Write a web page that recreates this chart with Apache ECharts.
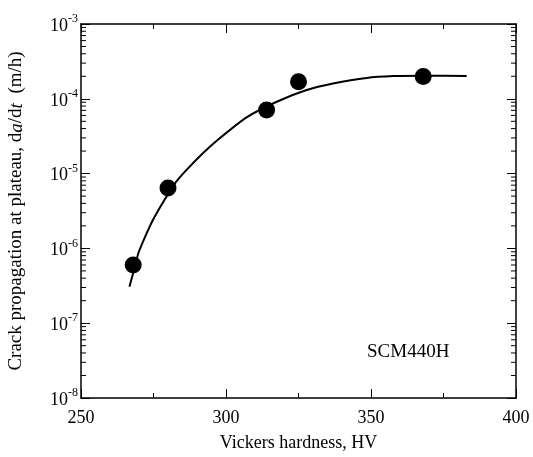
<!DOCTYPE html>
<html><head><meta charset="utf-8">
<script src="https://cdn.jsdelivr.net/npm/echarts@6/dist/echarts.min.js"></script>
<style>html,body{margin:0;padding:0;background:#fff}#c{width:533px;height:457px}</style>
</head><body><div id="c"></div>
<script>
// Measured data points (Vickers hardness HV, da/dt m/h)
const pointHV = [268, 280, 314, 325, 368];
const pointRate = [6.0e-7, 6.4e-6, 7.1e-5, 1.69e-4, 1.98e-4];
// Fitted curve
const curveHV = [266.7, 268.0, 269.8, 272.1, 274.8, 278.4, 282.4, 286.4, 292.2, 297.3, 307.1, 317.5, 327.8, 336.9, 348.5, 357.7, 368.0, 383.0];
const curveRate = [3.08e-7, 4.69e-7, 8.69e-7, 1.43e-6, 2.40e-6, 4.21e-6, 7.41e-6, 1.12e-5, 1.90e-5, 2.86e-5, 5.65e-5, 9.13e-5, 1.31e-4, 1.60e-4, 1.90e-4, 2.01e-4, 2.04e-4, 2.02e-4];
const xTicks = [250, 300, 350, 400];
const yTicks = [1e-8, 1e-7, 1e-6, 1e-5, 1e-4, 1e-3];
const annotation = 'SCM440H';

const FONT = '"Liberation Serif", "DejaVu Serif", serif';
const INK = '#000';
const chart = echarts.init(document.getElementById('c'), null, {renderer: 'canvas'});

const xBase = {
  type: 'value', min: 250, max: 400, interval: 50,
  axisLine: {show: true, lineStyle: {color: INK, width: 1.5}},
  axisTick: {show: true, inside: true, length: 9, lineStyle: {color: INK, width: 1}},
  minorTick: {show: true, splitNumber: 2, length: 5, lineStyle: {color: INK, width: 1}},
  splitLine: {show: false}
};
const yBase = {
  type: 'log', logBase: 10, min: 1e-8, max: 1e-3,
  axisLine: {show: true, lineStyle: {color: INK, width: 1.5}},
  axisTick: {show: true, inside: true, length: 9, lineStyle: {color: INK, width: 1}},
  splitLine: {show: false}
};

chart.setOption({
  animation: false,
  grid: {left: 81, right: 17, top: 24, bottom: 59, outerBoundsMode: 'none', containLabel: false},
  xAxis: [
    Object.assign({}, xBase, {
      position: 'bottom',
      name: 'Vickers hardness, HV', nameLocation: 'middle', nameGap: 36,
      nameTextStyle: {fontFamily: FONT, fontSize: 18, color: INK},
      axisLabel: {fontFamily: FONT, fontSize: 18, color: INK, margin: 11,
        formatter: v => xTicks.indexOf(v) >= 0 ? String(v) : ''}
    }),
    Object.assign({}, xBase, {position: 'top', axisLabel: {show: false}})
  ],
  yAxis: [
    Object.assign({}, yBase, {
      position: 'left',
      name: '{n|Crack propagation at plateau, d}{i|a}{n|/d}{i|t}{n|  (m/h)}',
      nameLocation: 'middle', nameGap: 55, nameRotate: 90,
      nameTextStyle: {
        rich: {
          n: {fontFamily: FONT, fontSize: 19, color: INK},
          i: {fontFamily: FONT, fontSize: 19, color: INK, fontStyle: 'italic'}
        }
      },
      axisLabel: {
        margin: 3,
        formatter: v => {
          const e = Math.round(Math.log10(v));
          return '{b|10}{s|' + e + '}';
        },
        rich: {
          b: {fontFamily: FONT, fontSize: 18, color: INK, verticalAlign: 'middle', padding: [4, 0, 0, 0]},
          s: {fontFamily: FONT, fontSize: 12, color: INK, verticalAlign: 'top', padding: [0, 0, 6, 0]}
        }
      }
    }),
    Object.assign({}, yBase, {position: 'right', axisLabel: {show: false}})
  ],
  series: [
    {
      type: 'line', xAxisIndex: 0, yAxisIndex: 0,
      data: curveHV.map((x, i) => [x, curveRate[i]]),
      smooth: 0.2, showSymbol: false, symbol: 'none',
      lineStyle: {color: '#000', width: 2}, z: 2
    },
    {
      type: 'scatter', xAxisIndex: 0, yAxisIndex: 0,
      data: pointHV.map((x, i) => [x, pointRate[i]]),
      symbol: 'circle', symbolSize: 17,
      itemStyle: {color: '#000', opacity: 1}, z: 3
    }
  ]
});

// Minor ticks for the log axes (2..9 x 10^k), placed through the axis scale
const graphics = [];
const leftX = chart.convertToPixel({xAxisIndex: 0}, 250);
const rightX = chart.convertToPixel({xAxisIndex: 0}, 400);
for (let k = -8; k < -3; k++) {
  for (let m = 2; m <= 9; m++) {
    const y = chart.convertToPixel({yAxisIndex: 0}, m * Math.pow(10, k));
    graphics.push({type: 'line', shape: {x1: leftX, y1: y, x2: leftX + 5, y2: y}, style: {stroke: INK, lineWidth: 1}, silent: true});
    graphics.push({type: 'line', shape: {x1: rightX, y1: y, x2: rightX - 5, y2: y}, style: {stroke: INK, lineWidth: 1}, silent: true});
  }
}
graphics.push({type: 'text', left: 367, top: 343, style: {text: annotation, font: '19px ' + FONT, fill: INK}});
chart.setOption({graphic: graphics});
</script>
</body></html>
